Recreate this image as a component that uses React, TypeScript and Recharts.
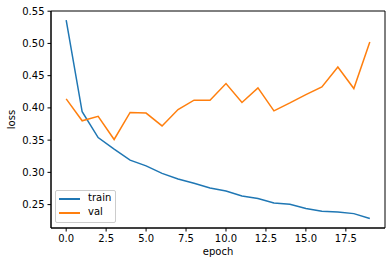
import React from 'react';
import { LineChart, Line, XAxis, YAxis, Legend, ReferenceArea } from 'recharts';

const epochs = [0, 1, 2, 3, 4, 5, 6, 7, 8, 9, 10, 11, 12, 13, 14, 15, 16, 17, 18, 19];
const trainLoss = [0.536, 0.394, 0.354, 0.336, 0.319, 0.310, 0.2985, 0.2896, 0.283, 0.2757, 0.271, 0.2633, 0.2593, 0.2525, 0.2505, 0.2438, 0.2396, 0.2385, 0.236, 0.2283];
const valLoss = [0.414, 0.380, 0.387, 0.351, 0.393, 0.392, 0.372, 0.3975, 0.412, 0.412, 0.4378, 0.4084, 0.431, 0.3954, 0.4077, 0.4207, 0.4325, 0.4635, 0.430, 0.5022];
const xTicks = [0, 2.5, 5, 7.5, 10, 12.5, 15, 17.5];
const yTicks = [0.25, 0.3, 0.35, 0.4, 0.45, 0.5, 0.55];

const X_DOMAIN: [number, number] = [-0.95, 19.95];
const Y_DOMAIN: [number, number] = [0.2137, 0.5503];

const data = epochs.map((e, i) => ({ epoch: e, train: trainLoss[i], val: valLoss[i] }));

const FONT = 'DejaVu Sans, sans-serif';
const tickStyle = { fontSize: 10, fill: '#000', fontFamily: FONT };

const LegendBox = () => (
  <div
    style={{
      width: 59,
      height: 31,
      border: '1px solid #cccccc',
      borderRadius: 2,
      background: 'rgba(255,255,255,0.8)',
      fontFamily: FONT,
      fontSize: 10,
      color: '#000',
      boxSizing: 'content-box',
      position: 'relative',
    }}
  >
    {[
      { name: 'train', color: '#1f77b4', y: 8 },
      { name: 'val', color: '#ff7f0e', y: 22 },
    ].map((it) => (
      <div key={it.name}>
        <div style={{ position: 'absolute', left: 3, top: it.y - 1, width: 21, height: 1.5, background: it.color }} />
        <div style={{ position: 'absolute', left: 32, top: it.y - 7, lineHeight: '12px' }}>{it.name}</div>
      </div>
    ))}
  </div>
);

export default function App() {
  return (
    <div style={{ position: 'absolute', left: 0, top: 0 }}>
      <LineChart width={392} height={266} data={data} margin={{ top: 11, right: 7, bottom: 0, left: 0 }}>
        <XAxis
          dataKey="epoch"
          type="number"
          domain={X_DOMAIN}
          allowDataOverflow
          ticks={xTicks}
          tickFormatter={(v: number) => v.toFixed(1)}
          height={38}
          tick={tickStyle}
          tickSize={3.5}
          tickMargin={3}
          stroke="#000"
          label={{ value: 'epoch', position: 'insideBottom', offset: 11, style: { fontSize: 10, fill: '#000', fontFamily: FONT } }}
        />
        <YAxis
          type="number"
          domain={Y_DOMAIN}
          allowDataOverflow
          ticks={yTicks}
          tickFormatter={(v: number) => v.toFixed(2)}
          width={51}
          tick={tickStyle}
          tickSize={3.5}
          tickMargin={3}
          stroke="#000"
          label={{ value: 'loss', angle: -90, position: 'insideLeft', offset: 11, style: { fontSize: 10, fill: '#000', fontFamily: FONT, textAnchor: 'middle' } }}
        />
        {/* full frame like matplotlib spines */}
        <ReferenceArea
          x1={X_DOMAIN[0]}
          x2={X_DOMAIN[1]}
          y1={Y_DOMAIN[0]}
          y2={Y_DOMAIN[1]}
          fill="none"
          fillOpacity={0}
          stroke="#000"
          strokeWidth={1}
          ifOverflow="visible"
        />
        <Legend
          layout="vertical"
          align="center"
          verticalAlign="middle"
          content={() => <LegendBox />}
          wrapperStyle={{ left: 55, top: 190, width: 'auto' }}
        />
        <Line dataKey="train" name="train" stroke="#1f77b4" strokeWidth={1.5} dot={false} isAnimationActive={false} />
        <Line dataKey="val" name="val" stroke="#ff7f0e" strokeWidth={1.5} dot={false} isAnimationActive={false} />
      </LineChart>
    </div>
  );
}
